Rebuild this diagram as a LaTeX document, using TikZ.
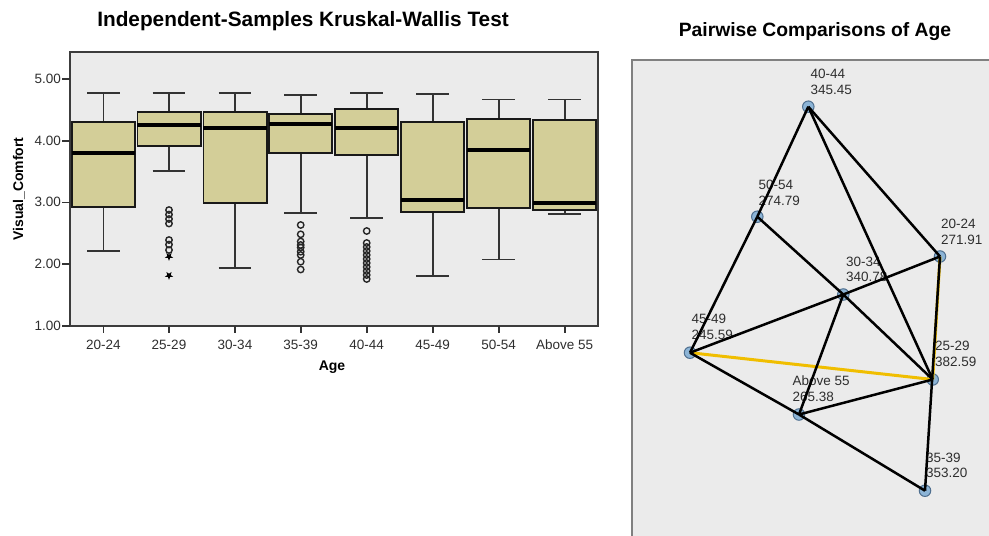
\documentclass[tikz,border=0pt]{standalone}
\usepackage{fontspec}
\setmainfont{Liberation Sans}
\usetikzlibrary{shapes.geometric}
\definecolor{plotbg}{HTML}{EBEBEB}
\definecolor{boxfill}{HTML}{D3CE98}
\definecolor{framegray}{HTML}{3C3C3C}
\definecolor{whiskgray}{HTML}{333333}
\definecolor{panelborder}{HTML}{808080}
\definecolor{nodefill}{HTML}{8CB4D6}
\definecolor{nodeedge}{HTML}{4F6F8F}
\definecolor{hilite}{HTML}{F0BE00}
\definecolor{labgray}{HTML}{2E2E2E}
\newcommand\kwbox[6]{%
  \draw[whisk] (#1,#2) -- (#1,#3);
  \draw[whisk] (#1,#5) -- (#1,#6);
  \draw[whisk] (#1-16.3,#2) -- (#1+16.3,#2);
  \draw[whisk] (#1-16.3,#6) -- (#1+16.3,#6);
  \draw[boxbody] (#1-31.6,#3) rectangle (#1+31.6,#5);
  \draw[medline] (#1-31.6,#4) -- (#1+31.6,#4);
}
\newcommand\kwout[2]{\draw[outl] (#1,#2) circle (3.2);}
\newcommand\kwstar[2]{\fill[black] (#1,#2) +(90:4.4) -- +(126:1.8) -- +(162:4.4) -- +(198:1.8) -- +(234:4.4) -- +(270:1.8) -- +(306:4.4) -- +(342:1.8) -- +(18:4.4) -- +(54:1.8) -- cycle;}
\begin{document}
\begin{tikzpicture}[x=1pt,y=-1pt,
  whisk/.style={draw=whiskgray,line width=1.6pt},
  boxbody/.style={draw=black!90,fill=boxfill,line width=1.8pt},
  medline/.style={draw=black,line width=4pt},
  outl/.style={draw=black!85,line width=1.4pt},
  ticklab/.style={font=\fontsize{13.5}{15}\selectfont,text=labgray,inner sep=0pt},
  axtitle/.style={font=\bfseries\fontsize{14}{16}\selectfont,text=black,inner sep=0pt},
  maintitle/.style={font=\bfseries\fontsize{20.8}{24}\selectfont,text=black,inner sep=0pt},
  ptitle/.style={font=\bfseries\fontsize{19.3}{22}\selectfont,text=black,inner sep=0pt},
  grp/.style={circle,draw=nodeedge,fill=nodefill,line width=1pt,minimum size=11.5pt,inner sep=0pt},
  grplab/.style={font=\fontsize{13.5}{15.4}\selectfont,text=labgray,align=left,anchor=south west,inner sep=0pt},
  link/.style={draw=black,line width=2.5pt},
  hlink/.style={draw=hilite,line width=3pt},
]
\useasboundingbox (0,0) rectangle (989,536);
\clip (0,0) rectangle (989,536);
\fill[white] (0,0) rectangle (989,536);

% ---------- left: box plot ----------
\node[maintitle] (t1) at (303,21) {Independent-Samples Kruskal-Wallis Test};
\fill[plotbg] (70,52) rectangle (597.7,325.7);

\kwbox{103.3}{92.7}{121.7}{153.3}{206.7}{251}
\kwbox{169}{92.7}{112.3}{125}{146.3}{171}
\kwbox{235}{92.7}{112.3}{128.3}{202.7}{267.7}
\kwbox{300.7}{95}{114}{124.3}{153.3}{212.7}
\kwbox{366.7}{92.7}{109.3}{128.3}{154.7}{217.7}
\kwbox{432.7}{94}{121.7}{200}{211.7}{276}
\kwbox{498.7}{99.3}{119.3}{150}{208.3}{259.3}
\kwbox{564.7}{99.3}{120.3}{202.7}{209.7}{214}

% outliers
\foreach \yy in {210,214.5,219,223.5,240,244.5,250} {\kwout{169}{\yy}}
\kwstar{169}{256.5}
\kwstar{169}{275.5}
\foreach \yy in {225,234.3,241.5,245,247.5,251.7,255,261.7,269.5} {\kwout{300.7}{\yy}}
\foreach \yy in {231,243,247,251,255,259,263,267,271,275,279} {\kwout{366.7}{\yy}}

\draw[framegray,line width=1.6pt] (70,52) rectangle (597.7,325.7);

% y axis
\foreach \v/\yy in {5.00/79,4.00/140.7,3.00/202.3,2.00/264,1.00/325.7} {
  \draw[whisk] (62,\yy) -- (70,\yy);
  \node[ticklab,anchor=east] (yl\v) at (61,\yy) {\v};
}
\node[axtitle,rotate=90] (ylab) at (19,189) {Visual\_Comfort};

% x axis
\foreach \lab/\xx [count=\i] in {20-24/103.3,25-29/169,30-34/235,35-39/300.7,40-44/366.7,45-49/432.7,50-54/498.7,Above 55/564.7} {
  \draw[whisk] (\xx,325.7) -- (\xx,333);
  \node[ticklab] (xl\i) at (\xx,345) {\lab};
}
\node[axtitle] (xlab) at (332,367) {Age};

% ---------- right: pairwise comparisons ----------
\node[ptitle] (t2) at (815,32) {Pairwise Comparisons of Age};
\draw[panelborder,fill=plotbg,line width=2pt] (632,59.5) rectangle (1000,560);

\node[grp] (g4044) at (808.3,106.7) {};
\node[grp] (g5054) at (757.3,216.7) {};
\node[grp] (g2024) at (940,256.5) {};
\node[grp] (g3034) at (843.3,294.5) {};
\node[grp] (g4549) at (690,352.7) {};
\node[grp] (g2529) at (932.7,379.5) {};
\node[grp] (gA55)  at (799,414.5) {};
\node[grp] (g3539) at (925,490.7) {};

\node[grplab] (l4044) at (810.5,94.7) {40-44\\345.45};
\node[grplab] (l5054) at (758.3,205.4) {50-54\\274.79};
\node[grplab] (l2024) at (941,244.7) {20-24\\271.91};
\node[grplab] (l3034) at (846,282) {30-34\\340.78};
\node[grplab] (l4549) at (691.5,339.7) {45-49\\245.59};
\node[grplab] (l2529) at (935,366.4) {25-29\\382.59};
\node[grplab] (lA55)  at (792.3,401.4) {Above 55\\265.38};
\node[grplab] (l3539) at (926,478) {35-39\\353.20};

\draw[hlink] (g4549.center) -- (g2529.center);
\draw[hlink] (g2024.center) -- (g2529.center);

\draw[link] (g4044.center) -- (g5054.center);
\draw[link] (g5054.center) -- (g4549.center);
\draw[link] (g4044.center) -- (g2024.center);
\draw[link] (g4044.center) -- (g2529.center);
\draw[link] (g5054.center) -- (g3034.center);
\draw[link] (g3034.center) -- (g2529.center);
\draw[link] (g4549.center) -- (g3034.center);
\draw[link] (g3034.center) -- (g2024.center);
\draw[link] (g3034.center) -- (gA55.center);
\draw[link] (g4549.center) -- (gA55.center);
\draw[link] (gA55.center) -- (g3539.center);
\draw[link] (gA55.center) -- (g2529.center);
\draw[link] (g2024.center) -- (g3539.center);
\end{tikzpicture}
\end{document}
